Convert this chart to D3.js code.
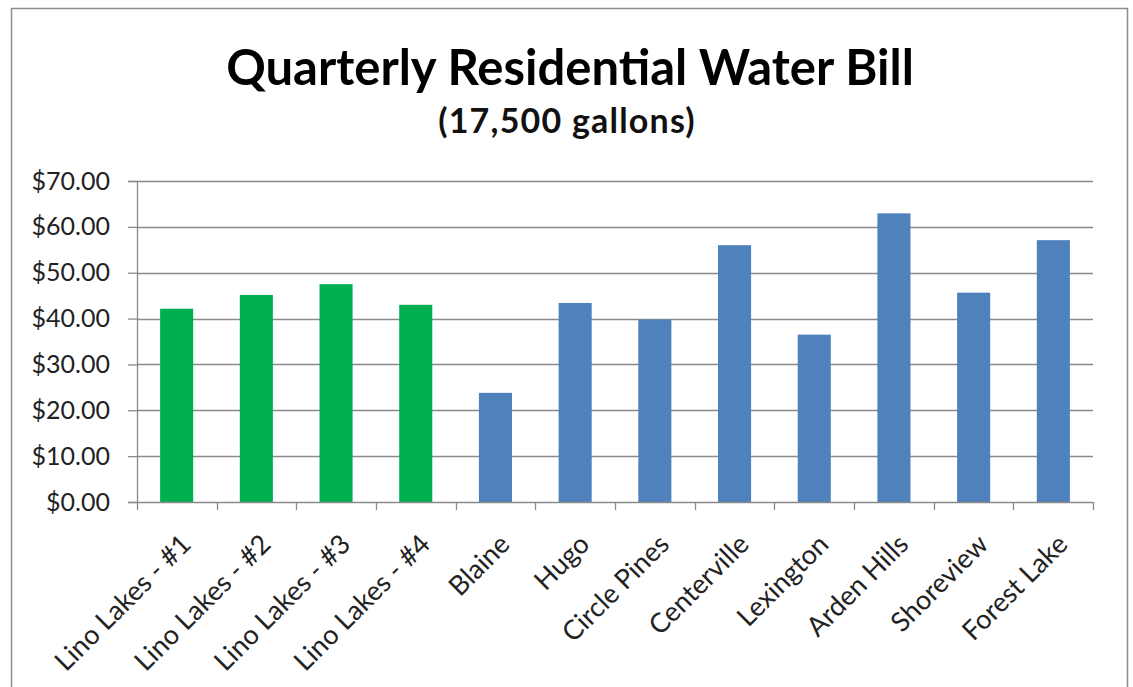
<!DOCTYPE html>
<html>
<head>
<meta charset="utf-8">
<style>
  body { margin: 0; background: #fff; }
  svg { display: block; font-family: Lato, "Open Sans", sans-serif; }
</style>
</head>
<body>
<svg width="1133" height="687"></svg>
<script src="https://d3js.org/d3.v7.min.js"></script>
<script>

var towns = ["Lino Lakes - #1", "Lino Lakes - #2", "Lino Lakes - #3", "Lino Lakes - #4",
  "Blaine", "Hugo", "Circle Pines", "Centerville", "Lexington", "Arden Hills", "Shoreview", "Forest Lake"];
var bills = [42.15, 45.15, 47.5, 43.0, 23.8, 43.4, 39.8, 56.0, 36.5, 62.95, 45.65, 57.1];
var isLino = [true, true, true, true, false, false, false, false, false, false, false, false];
var yTicks = [0, 10, 20, 30, 40, 50, 60, 70];

var svg = d3.select("svg");
var plotL = 137, plotR = 1093, plotT = 181, plotB = 502;
var axisCol = "#8a8a8a";

// frame
svg.append("rect")
  .attr("x", 11.5).attr("y", 8.5)
  .attr("width", 1116).attr("height", 700)
  .attr("fill", "#fff").attr("stroke", "#8c8c8c").attr("stroke-width", 1.5);

var x = d3.scaleBand().domain(towns).range([plotL, plotR]).paddingInner(0.585).paddingOuter(0.29);
var y = d3.scaleLinear().domain([0, 70]).range([plotB, plotT]);

// gridlines
svg.append("g").selectAll("line").data(yTicks.slice(1)).join("line")
  .attr("x1", plotL).attr("x2", plotR)
  .attr("y1", d => Math.round(y(d)) + 0.5).attr("y2", d => Math.round(y(d)) + 0.5)
  .attr("stroke", axisCol).attr("stroke-width", 1.3);

// bars
svg.append("g").selectAll("rect").data(towns).join("rect")
  .attr("x", d => x(d))
  .attr("width", x.bandwidth())
  .attr("y", (d, i) => y(bills[i]))
  .attr("height", (d, i) => y(0) - y(bills[i]))
  .attr("fill", (d, i) => isLino[i] ? "#00b050" : "#4f81bd");

// y axis
var yAxis = svg.append("g")
  .attr("transform", "translate(" + plotL + ",0)")
  .call(d3.axisLeft(y).tickValues(yTicks).tickSize(9).tickPadding(18)
    .tickFormat(d => "$" + d3.format(".2f")(d)))
  .attr("font-family", "Lato, 'Open Sans', sans-serif");
yAxis.select(".domain").attr("stroke", axisCol).attr("stroke-width", 1.3);
yAxis.selectAll(".tick line").attr("stroke", axisCol).attr("stroke-width", 1.3);
yAxis.selectAll("text").attr("font-size", 25).attr("fill", "#222");

// x axis
var xEdge = d3.scaleLinear().domain([0, towns.length]).range([plotL, plotR]);
var xAxisG = svg.append("g");
xAxisG.append("line")
  .attr("x1", plotL).attr("x2", plotR).attr("y1", plotB + 0.5).attr("y2", plotB + 0.5)
  .attr("stroke", axisCol).attr("stroke-width", 1.3);
xAxisG.selectAll("line.tk").data(d3.range(towns.length + 1)).join("line")
  .attr("class", "tk")
  .attr("x1", d => Math.round(xEdge(d)) + 0.5).attr("x2", d => Math.round(xEdge(d)) + 0.5)
  .attr("y1", plotB).attr("y2", plotB + 8)
  .attr("stroke", axisCol).attr("stroke-width", 1.3);

xAxisG.selectAll("text").data(towns).join("text")
  .attr("transform", d => "translate(" + (x(d) + x.bandwidth() / 2 + 16) + "," + (plotB + 44) + ") rotate(-45)")
  .attr("text-anchor", "end")
  .attr("font-size", 27)
  .attr("fill", "#222")
  .text(d => d);

// titles
svg.append("text")
  .attr("x", 570).attr("y", 85)
  .attr("text-anchor", "middle")
  .attr("font-size", 49).attr("font-weight", "bold").attr("fill", "#000")
  .text("Quarterly Residential Water Bill");
svg.append("text")
  .attr("x", 567).attr("y", 133)
  .attr("text-anchor", "middle")
  .attr("font-size", 34).attr("font-weight", "bold").attr("letter-spacing", 1.2).attr("fill", "#111")
  .text("(17,500 gallons)");

</script>
</body>
</html>
